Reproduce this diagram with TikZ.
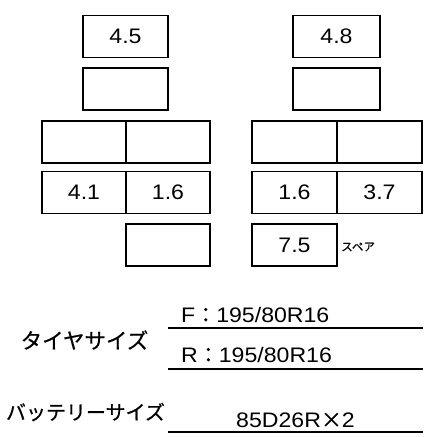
\documentclass[tikz,border=0pt]{standalone}
\usepackage{fontspec}
\setmainfont[FakeStretch=1.1]{Liberation Sans}
\newfontfamily\jp[FakeBold=0.6]{Noto Sans CJK JP}
\begin{document}
\begin{tikzpicture}[x=1pt,y=-1pt,
  cell/.style={draw,line width=1.6pt,inner sep=0pt,minimum height=42pt,font=\fontsize{21}{24}\selectfont},
  lbl/.style={inner sep=0pt,font=\fontsize{21}{24}\selectfont},
  uline/.style={line width=1.6pt}]
\useasboundingbox (0,0) rectangle (428,437);
% left column
\node[cell,minimum width=85pt] (L1) at (125.5,36.5) {4.5};
\node[cell,minimum width=85pt] (L2) at (125.5,89) {};
\node[cell,minimum width=84pt] (L3a) at (84,142) {};
\node[cell,minimum width=84pt] (L3b) at (168,142) {};
\node[cell,minimum width=84pt] (L4a) at (84,192.5) {4.1};
\node[cell,minimum width=84pt] (L4b) at (168,192.5) {1.6};
\node[cell,minimum width=84pt] (L5) at (168,245) {};
% right column
\node[cell,minimum width=87pt] (R1) at (336.5,36.5) {4.8};
\node[cell,minimum width=87pt] (R2) at (336.5,89) {};
\node[cell,minimum width=85pt] (R3a) at (294.5,142) {};
\node[cell,minimum width=85pt] (R3b) at (379.5,142) {};
\node[cell,minimum width=85pt] (R4a) at (294.5,192.5) {1.6};
\node[cell,minimum width=85pt] (R4b) at (379.5,192.5) {3.7};
\node[cell,minimum width=85pt] (R5) at (294.5,245) {7.5};
\node[inner sep=0pt,anchor=west,font=\jp\fontsize{11.5}{12}\selectfont] (spare) at (341,247) {スペア};
% tyre size
\node[lbl,font=\jp\fontsize{21.5}{24}\selectfont] (tyre) at (84.5,340) {タイヤサイズ};
\coordinate (u1a) at (168,328);
\coordinate (u1b) at (423,328);
\draw[uline] (u1a) -- (u1b);
\node[lbl,anchor=base west] (front) at (181,322.5) {F{\jp：}195/80R16};
\coordinate (u2a) at (168,369);
\coordinate (u2b) at (423,369);
\draw[uline] (u2a) -- (u2b);
\node[lbl,anchor=base west] (rear) at (181,362.5) {R{\jp：}195/80R16};
% battery size
\node[lbl,font=\jp\fontsize{20}{24}\selectfont] (batt) at (85.5,412) {バッテリーサイズ};
\coordinate (u3a) at (168,432);
\coordinate (u3b) at (423,432);
\draw[uline] (u3a) -- (u3b);
\node[lbl,anchor=base] (battval) at (295.5,427.5) {85D26R{\jp×}2};
\end{tikzpicture}
\end{document}
